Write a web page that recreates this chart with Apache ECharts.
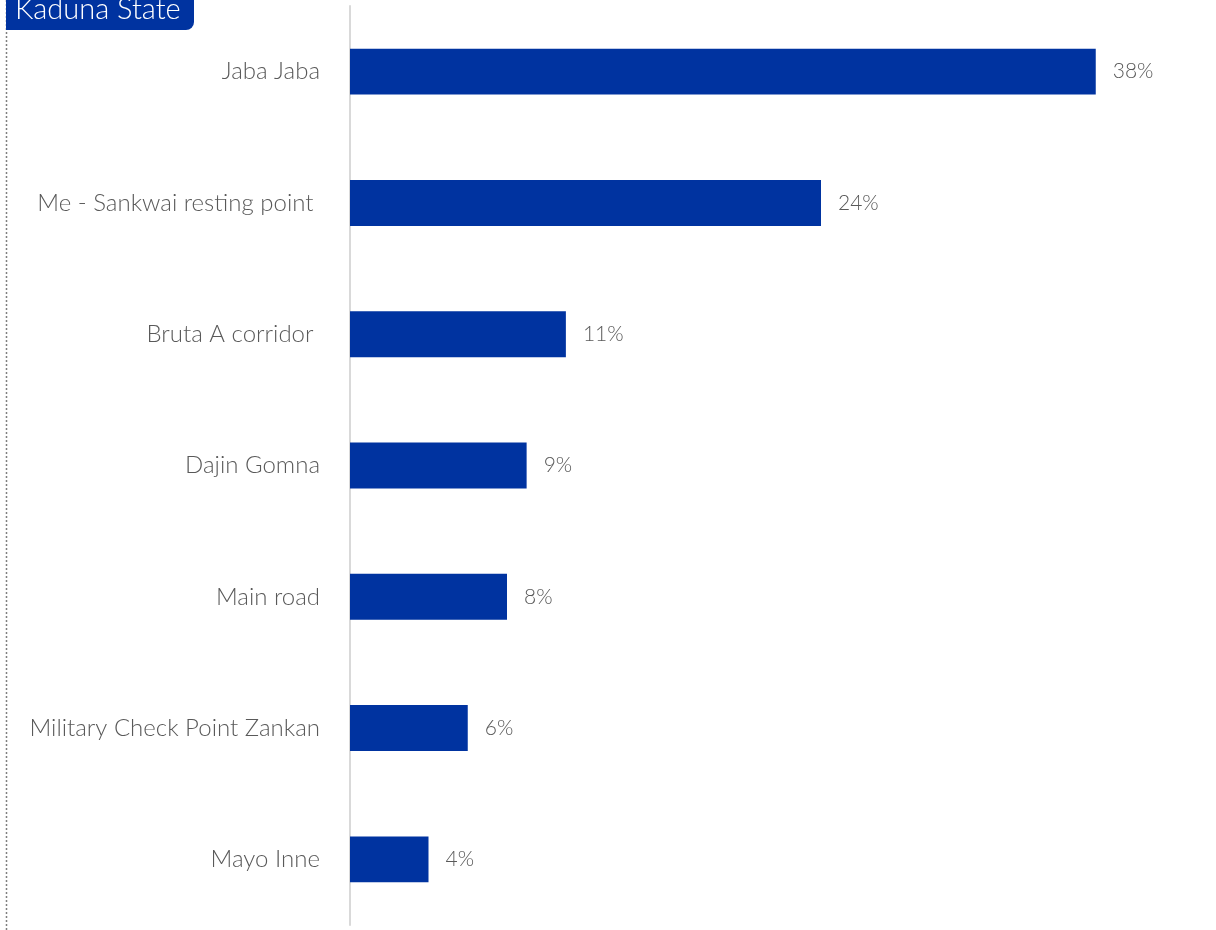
<!DOCTYPE html>
<html>
<head>
<meta charset="utf-8">
<script src="https://cdn.jsdelivr.net/npm/echarts@6/dist/echarts.min.js"></script>
<style>
  html, body { margin: 0; padding: 0; background: #ffffff; }
  #chart { width: 1216px; height: 930px; }
</style>
</head>
<body>
<div id="chart"></div>
<script>
// Locations and their share of responses (%)
const categories = [
  'Jaba Jaba',
  'Me - Sankwai resting point ',
  'Bruta A corridor ',
  'Dajin Gomna',
  'Main road',
  'Military Check Point Zankan',
  'Mayo Inne'
];
const shares = [38, 24, 11, 9, 8, 6, 4];
const stateName = 'Kaduna State';

const BLUE = '#0033a0';
const FONT = 'Lato';

const chart = echarts.init(document.getElementById('chart'), null, { renderer: 'canvas' });

chart.setOption({
  animation: false,
  backgroundColor: '#ffffff',
  grid: { left: 350, right: 81, top: 6, bottom: 5, containLabel: false },
  xAxis: {
    type: 'value',
    min: 0,
    max: 40,
    show: false
  },
  yAxis: {
    type: 'category',
    data: categories,
    inverse: true,
    axisTick: { show: false },
    axisLine: { show: true, lineStyle: { color: '#d9d9d9', width: 2 } },
    axisLabel: {
      margin: 30,
      color: '#595959',
      fontFamily: FONT,
      fontWeight: 300,
      fontSize: 24,
      padding: [4, 0, 0, 0]
    },
    splitLine: { show: false }
  },
  series: [{
    type: 'bar',
    data: shares,
    barWidth: '35%',
    itemStyle: { color: BLUE },
    label: {
      show: true,
      position: 'right',
      distance: 17,
      formatter: p => p.value + '%',
      color: '#595959',
      fontFamily: FONT,
      fontWeight: 300,
      fontSize: 21,
      padding: [4, 0, 0, 0]
    }
  }],
  graphic: [
    {
      type: 'line',
      shape: { x1: 6.5, y1: 0, x2: 6.5, y2: 930 },
      style: { stroke: '#7f7f7f', lineWidth: 1.5, lineDash: [2, 2] },
      silent: true
    },
    {
      type: 'rect',
      shape: { x: 6, y: -10, width: 188, height: 40, r: [0, 0, 8, 0] },
      style: { fill: BLUE },
      silent: true
    },
    {
      type: 'text',
      x: 15,
      y: 10,
      style: {
        text: stateName,
        fill: '#ffffff',
        font: '300 29px Lato',
        textVerticalAlign: 'middle'
      },
      silent: true
    }
  ]
});
</script>
</body>
</html>
